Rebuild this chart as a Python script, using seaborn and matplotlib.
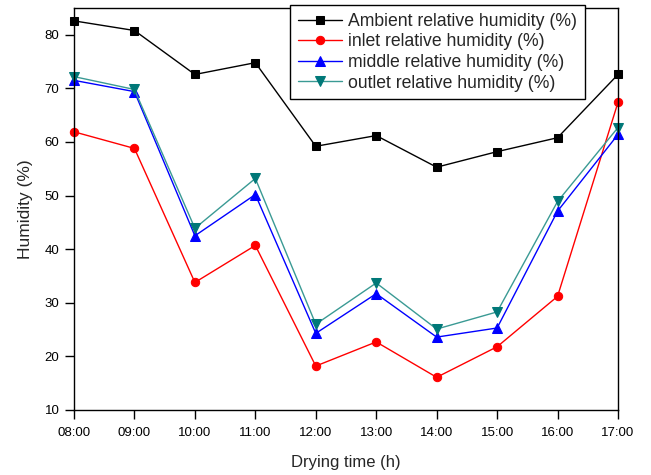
import matplotlib
matplotlib.use("Agg")
import matplotlib.pyplot as plt
import seaborn as sns
import pandas as pd

times = ["08:00", "09:00", "10:00", "11:00", "12:00", "13:00", "14:00", "15:00", "16:00", "17:00"]
ambient = [82.6, 80.8, 72.6, 74.8, 59.2, 61.2, 55.3, 58.2, 60.8, 72.6]
inlet = [61.9, 58.8, 33.8, 40.7, 18.2, 22.7, 16.1, 21.8, 31.2, 67.4]
middle = [71.5, 69.4, 42.5, 50.2, 24.3, 31.7, 23.6, 25.3, 47.1, 61.4]
outlet = [72.2, 69.8, 43.9, 53.2, 26.0, 33.7, 25.1, 28.3, 48.9, 62.7]
labels = ["Ambient relative humidity (%)", "inlet relative humidity (%)",
          "middle relative humidity (%)", "outlet relative humidity (%)"]
y_ticks = [10, 20, 30, 40, 50, 60, 70, 80]

sns.set_style("ticks")
plt.rcParams['font.family'] = ['Liberation Sans', 'DejaVu Sans']

idx = list(range(len(times)))
df = pd.DataFrame({
    "x": idx * 4,
    "y": ambient + inlet + middle + outlet,
    "series": sum([[l] * len(times) for l in labels], []),
})

fig = plt.figure(figsize=(6.51, 4.75), dpi=100)
ax = fig.add_axes([74/651, 65/475, (618-74)/651, (410-8)/475])

styles = [("black", "black", "s", 6), ("#ff0000", "#ff0000", "o", 6),
          ("#0000ff", "#0000ff", "^", 7.5), ("#3a9a94", "#007878", "v", 7.5)]
for lab, (lc, mc, mk, ms) in zip(labels, styles):
    sub = df[df["series"] == lab]
    sns.lineplot(data=sub, x="x", y="y", ax=ax, color=lc, marker=mk,
                 markersize=ms, markerfacecolor=mc, markeredgecolor=mc,
                 linewidth=1, label=lab, clip_on=False)

ax.set_xlim(0, 9)
ax.set_ylim(10, 85)
ax.set_xticks(idx)
ax.set_xticklabels(times)
ax.set_yticks(y_ticks)
ax.tick_params(axis="both", labelsize=9.5, direction="out", length=6.5, width=1,
               colors="black", pad=4)
ax.tick_params(axis="x", pad=6)
for sp in ax.spines.values():
    sp.set_visible(True)
    sp.set_linewidth(1)
    sp.set_color("black")
ax.set_xlabel("Drying time (h)", fontsize=12, labelpad=11)
ax.set_ylabel("Humidity (%)", fontsize=12.5, labelpad=8)

leg = ax.legend(loc="upper right", bbox_to_anchor=(0.939, 1.0075), borderaxespad=0,
                fontsize=12.7, frameon=True, fancybox=False, edgecolor="black",
                framealpha=1, handlelength=2.5, borderpad=0.45, labelspacing=0.2,
                handletextpad=0.35)
leg.get_frame().set_linewidth(1)

fig.savefig("out.png", dpi=100)
